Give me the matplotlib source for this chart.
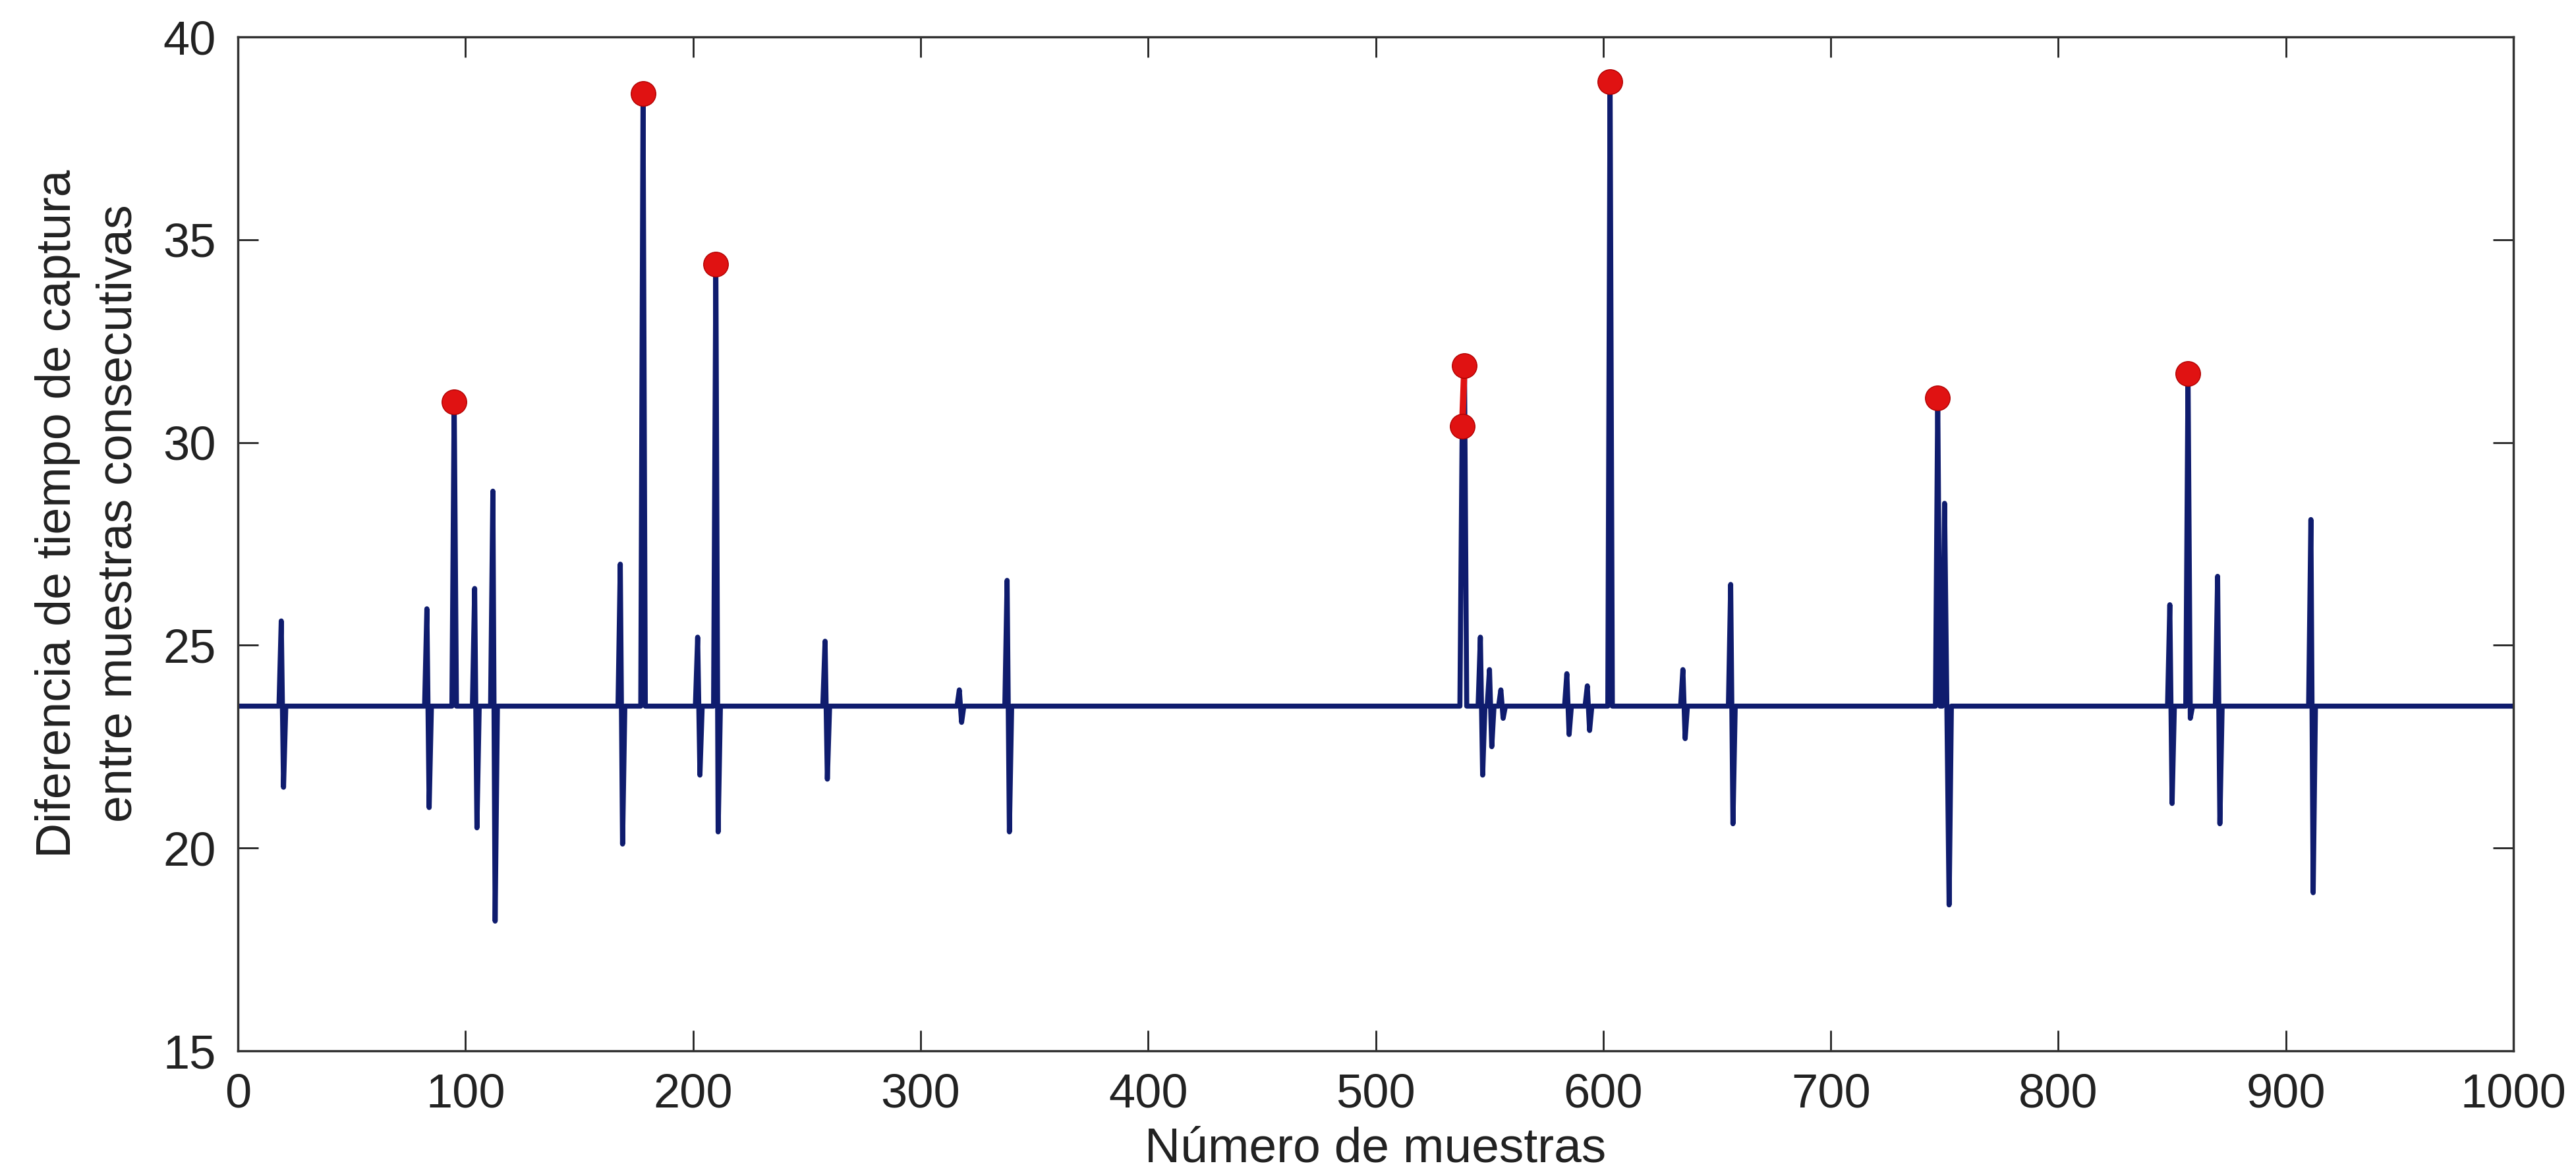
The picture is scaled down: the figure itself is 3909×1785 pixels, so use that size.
import matplotlib.pyplot as plt
import numpy as np

# Sample axis and the resting level of the signal
n_samples = 1000
baseline = 23.5

# Spikes: sample number and value
spike_idx = np.array([19, 20, 83, 84, 95, 104, 105, 112, 113, 168, 169, 178,
                      202, 203, 210, 211, 258, 259, 317, 318, 338, 339,
                      538, 539, 546, 547, 550, 551, 555, 556, 584, 585,
                      593, 594, 603, 635, 636, 656, 657, 747, 750, 752,
                      849, 850, 857, 858, 870, 871, 911, 912])
spike_val = np.array([25.6, 21.5, 25.9, 21.0, 31.0, 26.4, 20.5, 28.8, 18.2, 27.0, 20.1, 38.6,
                      25.2, 21.8, 34.4, 20.4, 25.1, 21.7, 23.9, 23.1, 26.6, 20.4,
                      30.4, 31.9, 25.2, 21.8, 24.4, 22.5, 23.9, 23.2, 24.3, 22.8,
                      24.0, 22.9, 38.9, 24.4, 22.7, 26.5, 20.6, 31.1, 28.5, 18.6,
                      26.0, 21.1, 31.7, 23.2, 26.7, 20.6, 28.1, 18.9])

# Samples flagged with a red marker
flagged_idx = np.array([95, 178, 210, 538, 539, 603, 747, 857])

x_ticks = np.arange(0, 1001, 100)
y_ticks = np.arange(15, 41, 5)

samples = np.arange(1, n_samples + 1)
signal = np.full(n_samples, baseline)
signal[spike_idx - 1] = spike_val

flagged = np.full(n_samples, np.nan)
flagged[flagged_idx - 1] = signal[flagged_idx - 1]

plt.rcParams['font.family'] = ['Liberation Sans', 'DejaVu Sans']

fig = plt.figure(figsize=(39.09, 17.85), dpi=100)
ax = fig.add_axes([0.0924, 0.1064, 0.8833, 0.8622])

ax.plot(samples, signal, color='#0f1c6e', linewidth=5.5)
ax.plot(samples, flagged, 'o-', color='#e01212', markeredgecolor='#b00000',
        markersize=27, linewidth=7)

ax.set_xlim(0, 1000)
ax.set_ylim(15, 40)
ax.set_xticks(x_ticks)
ax.set_yticks(y_ticks)

for side in ax.spines.values():
    side.set_linewidth(2.5)
    side.set_color('#333333')

ax.tick_params(direction='in', length=22, width=2, top=True, right=True,
               labelsize=52, pad=24, colors='#222222')

ax.set_xlabel('Número de muestras', fontsize=54, labelpad=10, color='#222222')
ax.set_ylabel('Diferencia de tiempo de captura\nentre muestras consecutivas',
              fontsize=53, linespacing=1.45, color='#222222')
ax.yaxis.label.set_va('center')
ax.yaxis.set_label_coords(-0.0659, 0.53)

fig.savefig('out.png', dpi=100)
